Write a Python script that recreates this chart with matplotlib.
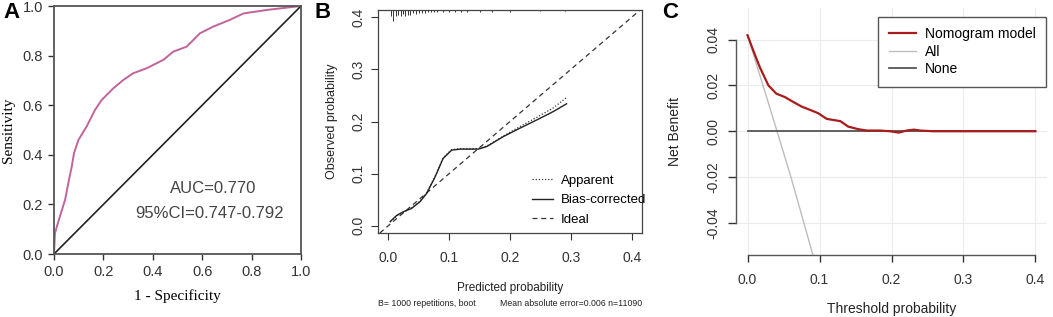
import matplotlib
matplotlib.use("Agg")
import matplotlib.pyplot as plt

plt.rcParams['font.family'] = ['Liberation Sans', 'DejaVu Sans']

W, H = 1053, 317

# --- A: ROC curve ---
roc_fpr = [0, 0.004, 0.024, 0.045, 0.058, 0.072, 0.081, 0.099, 0.132, 0.166, 0.193, 0.240,
           0.281, 0.321, 0.375, 0.443, 0.483, 0.537, 0.591, 0.645, 0.712, 0.767, 0.861, 1.0]
roc_tpr = [0, 0.085, 0.152, 0.219, 0.286, 0.353, 0.407, 0.460, 0.514, 0.581, 0.621, 0.668,
           0.702, 0.729, 0.749, 0.783, 0.816, 0.836, 0.890, 0.917, 0.944, 0.970, 0.984, 1.0]
roc_ticks = [0.0, 0.2, 0.4, 0.6, 0.8, 1.0]

# --- B: calibration ---
cal_x = [0.003, 0.014, 0.025, 0.038, 0.052, 0.063, 0.077, 0.090, 0.104, 0.118, 0.148,
         0.162, 0.189, 0.216, 0.244, 0.271, 0.293]
cal_bias = [0.008, 0.020, 0.027, 0.033, 0.046, 0.062, 0.094, 0.129, 0.145, 0.147, 0.147,
            0.152, 0.171, 0.187, 0.203, 0.219, 0.234]
cal_apparent = [0.007, 0.019, 0.026, 0.034, 0.047, 0.063, 0.095, 0.130, 0.146, 0.148, 0.148,
                0.153, 0.172, 0.190, 0.208, 0.226, 0.246]
rug_x = [0.005, 0.008, 0.012, 0.016, 0.020, 0.024, 0.028, 0.032, 0.036, 0.040, 0.045, 0.050,
         0.055, 0.060, 0.065, 0.070, 0.075, 0.080, 0.090, 0.100, 0.110, 0.120, 0.130, 0.150,
         0.170, 0.200, 0.250, 0.290]
rug_h = [0.012, 0.021, 0.012, 0.010, 0.012, 0.008, 0.012, 0.010, 0.010, 0.006, 0.008, 0.006,
         0.006, 0.006, 0.004, 0.004, 0.004, 0.004, 0.004, 0.004, 0.004, 0.003, 0.003, 0.003,
         0.003, 0.003, 0.002, 0.002]
cal_ticks = [0.0, 0.1, 0.2, 0.3, 0.4]

# --- C: decision curve ---
nb_x = [0, 0.0079, 0.017, 0.029, 0.040, 0.052, 0.064, 0.075, 0.087, 0.098, 0.110, 0.129,
        0.140, 0.154, 0.166, 0.184, 0.198, 0.210, 0.221, 0.231, 0.240, 0.258, 0.286, 0.4]
nb_y = [0.0419, 0.0353, 0.028, 0.020, 0.0164, 0.0149, 0.0127, 0.0108, 0.0093, 0.0079, 0.0054,
        0.0044, 0.0020, 0.0009, 0.0003, 0.0003, 0.0, -0.0006, 0.0003, 0.0007, 0.0003, 0.0, 0.0, 0.0]
all_x = [0, 0.03, 0.06, 0.09, 0.10]
all_y = [0.0419, 0.0113, -0.0196, -0.0531, -0.064]
none_x = [0, 0.4]
none_y = [0, 0]
dca_xticks = [0.0, 0.1, 0.2, 0.3, 0.4]
dca_yticks = [-0.04, -0.02, 0.0, 0.02, 0.04]


def box(l, t, r, b):
    return [l / W, 1 - b / H, (r - l) / W, (b - t) / H]


def ftext(x, y, s, **kw):
    fig.text(x / W, 1 - y / H, s, **kw)


fig = plt.figure(figsize=(W / 100, H / 100), dpi=100)

# ---------------- A ----------------
ax = fig.add_axes(box(54, 6, 301, 254))
ax.plot(roc_fpr, roc_tpr, color='#c0649a', lw=1.4)
ax.plot([0, 1], [0, 1], color='#222222', lw=1.2)
ax.set_xlim(0, 1)
ax.set_ylim(0, 1)
ax.set_xticks(roc_ticks)
ax.set_yticks(roc_ticks)
ax.set_xticklabels(['%.1f' % t for t in roc_ticks])
ax.set_yticklabels(['%.1f' % t for t in roc_ticks])
ax.tick_params(length=4.5, width=1, pad=3.5, labelsize=10.5, colors='#333333')
for s in ax.spines.values():
    s.set_color('#555555')
    s.set_linewidth(1.3)
ax.set_xlabel('1 - Specificity', family='Liberation Serif', fontsize=11, labelpad=7)
ax.set_ylabel('Sensitivity', family='Liberation Serif', fontsize=11, labelpad=5)
ax.text(0.645, 0.266, 'AUC=0.770', ha='center', va='center', fontsize=12, color='#444444')
ax.text(0.628, 0.165, '95%CI=0.747-0.792', ha='center', va='center', fontsize=12, color='#444444')

# ---------------- B ----------------
bx = fig.add_axes(box(378, 10, 642, 233))
bx.set_xlim(-0.017, 0.417)
bx.set_ylim(-0.014, 0.414)
bx.axline((0, 0), slope=1, color='#333333', lw=0.9, ls=(0, (4, 3)), label='Ideal')
bx.plot(cal_x, cal_apparent, color='#333333', lw=0.9, ls=(0, (1, 1.5)), label='Apparent')
bx.plot(cal_x, cal_bias, color='#222222', lw=1.0, label='Bias-corrected')
top = 0.414
bx.vlines(rug_x, [top - h for h in rug_h], top, color='#333333', lw=0.7)
bx.set_xticks(cal_ticks)
bx.set_yticks(cal_ticks)
bx.set_xticklabels(['%.1f' % t for t in cal_ticks])
bx.set_yticklabels(['%.1f' % t for t in cal_ticks], rotation=90, va='center')
bx.tick_params(axis='x', length=5, width=0.8, pad=8, labelsize=10, colors='#333333')
bx.tick_params(axis='y', length=5, width=0.8, pad=4, labelsize=10, colors='#333333')
for s in bx.spines.values():
    s.set_color('#444444')
    s.set_linewidth(0.9)
h, l = bx.get_legend_handles_labels()
order = [1, 2, 0]
bx.legend([h[i] for i in order], [l[i] for i in order], loc='lower left', frameon=False,
          fontsize=9.5, handlelength=1.6, handletextpad=0.6, labelspacing=0.57,
          borderpad=0, borderaxespad=0, bbox_to_anchor=(0.583, 0.031))
bx.set_xlabel('Predicted probability', fontsize=8.5, labelpad=12.5, color='#222222')
bx.set_ylabel('Observed probability', fontsize=9, labelpad=10, color='#222222')
ftext(378, 303, 'B= 1000 repetitions, boot', fontsize=6.3, va='center', color='#222222')
ftext(642, 303, 'Mean absolute error=0.006 n=11090', fontsize=6.3, va='center', ha='right',
      color='#222222')

# ---------------- C ----------------
cx = fig.add_axes(box(736, 7.5, 1047, 255))
cx.set_xlim(-0.016, 0.416)
cx.set_ylim(-0.054, 0.054)
cx.set_xticks(dca_xticks)
cx.set_yticks(dca_yticks)
cx.set_xticklabels(['%.1f' % t for t in dca_xticks])
cx.set_yticklabels(['%.2f' % t for t in dca_yticks], rotation=90, va='center')
cx.grid(color='#ebebeb', lw=0.8)
cx.set_axisbelow(True)
cx.plot(all_x, all_y, color='#bdbdbd', lw=1.0, label='All')
cx.plot(none_x, none_y, color='#555555', lw=1.3, label='None')
cx.plot(nb_x, nb_y, color='#a81c1c', lw=1.6, label='Nomogram model')
for k in ['top', 'right']:
    cx.spines[k].set_visible(False)
cx.spines['left'].set_bounds(-0.04, 0.04)
cx.spines['bottom'].set_bounds(0, 0.4)
for k in ['left', 'bottom']:
    cx.spines[k].set_color('#555555')
    cx.spines[k].set_linewidth(1.0)
cx.tick_params(axis='x', length=5, width=1, pad=8, labelsize=10, colors='#333333')
cx.tick_params(axis='y', length=6, width=1, pad=5, labelsize=10, colors='#333333')
h, l = cx.get_legend_handles_labels()
order = [2, 0, 1]
leg = cx.legend([h[i] for i in order], [l[i] for i in order], loc='upper right',
                bbox_to_anchor=(0.997, 0.962), fontsize=10, fancybox=False, framealpha=1,
                handlelength=2.0, handletextpad=0.6, borderpad=0.75, labelspacing=0.25,
                borderaxespad=0)
leg.get_frame().set_edgecolor('#555555')
leg.get_frame().set_linewidth(1.0)
cx.set_xlabel('Threshold probability', fontsize=10, labelpad=10.5, color='#222222')
cx.set_ylabel('Net Benefit', fontsize=10, labelpad=17.5, color='#222222')

# panel letters
ftext(12, 12, 'A', fontsize=16, fontweight='bold', ha='center', va='center')
ftext(323, 12, 'B', fontsize=16, fontweight='bold', ha='center', va='center')
ftext(670, 13, 'C', fontsize=16, fontweight='bold', ha='center', va='center')

fig.savefig('out.png', dpi=100)
